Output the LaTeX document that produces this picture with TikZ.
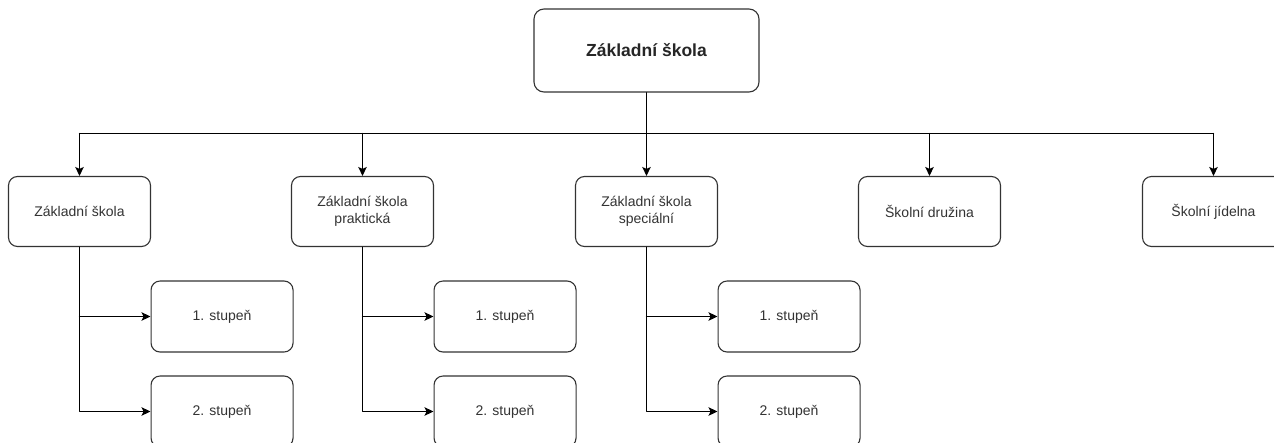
\documentclass[tikz,border=0pt]{standalone}
\usepackage{fontspec}
\setmainfont{Liberation Sans}
\usetikzlibrary{arrows.meta}
\definecolor{boxline}{HTML}{333333}
\tikzset{
  unit/.style={draw=boxline, fill=white, text=boxline, rounded corners=9pt, line width=1.1pt,
    minimum width=142pt, minimum height=70pt, align=center, font=\fontsize{14}{17}\selectfont},
  wire/.style={draw=black, line width=1.1pt},
  link/.style={wire, -{Stealth[length=9pt, width=8.5pt, inset=2pt]}}
}
\begin{document}
\begin{tikzpicture}[x=1pt, y=-1pt, line cap=round, line join=round]
  \useasboundingbox (0, 0) rectangle (1274, 442);
  % Top layer
  \node [unit, minimum width=225pt, minimum height=83pt, rounded corners=10pt, text=black!85,
    font=\bfseries\fontsize{17.5}{21}\selectfont] (skola) at (646.5, 50.5) {Základní škola};
  \coordinate (bus) at (646.5, 133.5);
  % Second layer
  \foreach \a/\p [count=\x] in {{Základní škola}/79.5, {Základní škola\\praktická}/362.5,
      {Základní škola\\speciální}/646.5, {Školní družina}/929.5, {Školní jídelna}/1213.5} {
    \node [unit] (druh-\x) at (\p, 211.5) {\a};
    \coordinate (tap-\x) at (druh-\x.north |- bus);
  }
  % Third layer
  \foreach \x in {1, 2, 3} {
    \node [unit, minimum height=71pt, anchor=west] (stupen-\x-1) at ([xshift=71pt] druh-\x.center |- 0, 316.5) {1. stupeň};
    \node [unit, minimum height=71pt, anchor=west] (stupen-\x-2) at ([xshift=71pt] druh-\x.center |- 0, 411.5) {2. stupeň};
    \coordinate (odboc-\x) at (druh-\x.south |- stupen-\x-1.west);
  }
  % First layer arrows
  \draw [wire] (skola.south) -- (bus);
  \draw [wire] (tap-1) -- (tap-5);
  \foreach \x in {1, ..., 5}
    \draw [link] (tap-\x) -- (druh-\x.north);
  % Second layer arrows
  \foreach \x in {1, 2, 3} {
    \draw [link] (druh-\x.south) |- (stupen-\x-2.west);
    \draw [link] (odboc-\x) -- (stupen-\x-1.west);
  }
\end{tikzpicture}
\end{document}
